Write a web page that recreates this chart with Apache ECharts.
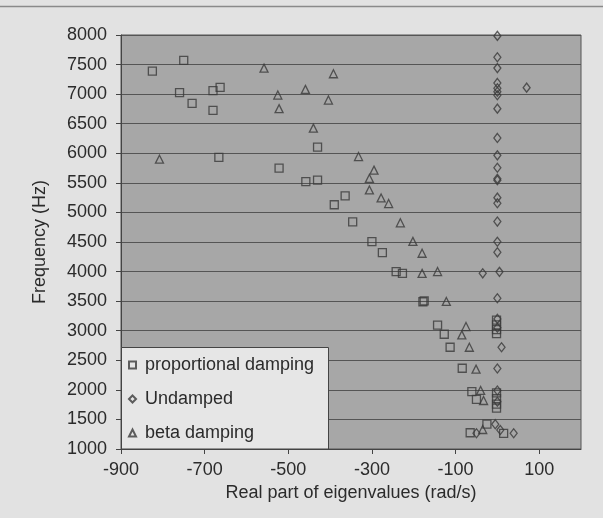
<!DOCTYPE html>
<html>
<head>
<meta charset="utf-8">
<style>
  html, body { margin: 0; padding: 0; background: #e2e2e2; }
  #chart { width: 603px; height: 518px; }
</style>
<script src="https://cdn.jsdelivr.net/npm/echarts@6/dist/echarts.min.js"></script>
</head>
<body>
<div id="chart"></div>
<script>
// Eigenvalues: [real part (rad/s), frequency (Hz)]
const proportionalDamping = [
  [-825, 7390], [-750, 7570], [-760, 7025], [-730, 6845], [-680, 7060],
  [-663, 7115], [-680, 6725], [-666, 5930], [-522, 5750], [-458, 5520],
  [-430, 5545], [-430, 6105], [-390, 5130], [-364, 5280], [-346, 4840],
  [-300, 4505], [-275, 4320], [-242, 4000], [-227, 3970], [-178, 3490],
  [-175, 3505], [-143, 3095], [-127, 2940], [-113, 2720], [-84, 2365],
  [-61, 1970], [-50, 1840], [-65, 1275], [-25, 1420], [15, 1265],
  [-2, 3180], [-2, 3100], [-2, 3020], [-2, 2950],
  [-2, 1950], [-2, 1850], [-2, 1760], [-2, 1690]
];
const undamped = [
  [0, 7985], [0, 7625], [0, 7440], [0, 7190], [0, 7100], [0, 7040], [0, 6980],
  [70, 7110], [0, 6755], [0, 6260], [0, 5965], [0, 5755], [0, 5570], [0, 5545],
  [0, 5250], [0, 5155], [0, 4845], [0, 4505], [0, 4325], [5, 3995], [-35, 3970],
  [0, 3550], [0, 3200], [0, 3050], [10, 2720], [0, 2360], [0, 1990], [0, 1800],
  [-50, 1265], [-5, 1420], [7, 1320], [39, 1265]
];
const betaDamping = [
  [-808, 5900], [-558, 7440], [-525, 6985], [-522, 6755], [-459, 7080],
  [-392, 7345], [-404, 6900], [-440, 6425], [-332, 5945], [-295, 5715],
  [-306, 5575], [-306, 5380], [-278, 5245], [-260, 5150], [-232, 4825],
  [-202, 4510], [-180, 4310], [-180, 3970], [-143, 4000], [-122, 3495],
  [-75, 3070], [-85, 2930], [-67, 2720], [-51, 2350], [-40, 1990],
  [-33, 1820], [-35, 1330]
];
const seriesNames = ['proportional damping', 'Undamped', 'beta damping'];
const xTitle = 'Real part of eigenvalues (rad/s)';
const yTitle = 'Frequency (Hz)';

const ink = '#2b2b2b';
const markStroke = '#3a3a3a';
const font = 'Liberation Sans, Arial, sans-serif';
const fs = 18;

function markerStyle() {
  return { color: 'rgba(0,0,0,0)', borderColor: markStroke, borderWidth: 1.3 };
}

const chart = echarts.init(document.getElementById('chart'), null, { renderer: 'canvas' });
chart.setOption({
  backgroundColor: '#e2e2e2',
  animation: false,
  textStyle: { fontFamily: font },
  grid: {
    left: 121, right: 22, top: 35, bottom: 69,
    show: true, backgroundColor: '#a7a7a7', borderColor: '#555', borderWidth: 1
  },
  xAxis: {
    type: 'value', min: -900, max: 200, interval: 200,
    name: xTitle, nameLocation: 'middle', nameGap: 35,
    nameTextStyle: { color: ink, fontSize: fs, fontFamily: font },
    axisLine: { onZero: false, lineStyle: { color: '#444', width: 1 } },
    axisTick: { show: true, length: 5, lineStyle: { color: '#444' } },
    axisLabel: {
      color: ink, fontSize: fs, margin: 12, fontFamily: font, showMaxLabel: false,
      formatter: v => String(v)
    },
    splitLine: { show: false }
  },
  yAxis: {
    type: 'value', min: 1000, max: 8000, interval: 500,
    name: yTitle, nameLocation: 'middle', nameGap: 72, nameRotate: 90,
    nameTextStyle: { color: ink, fontSize: fs, fontFamily: font },
    axisLine: { onZero: false, lineStyle: { color: '#444', width: 1 } },
    axisTick: { show: true, length: 5, lineStyle: { color: '#444' } },
    axisLabel: { color: ink, fontSize: fs, margin: 14, fontFamily: font, formatter: v => String(v) },
    splitLine: { show: true, lineStyle: { color: '#555', width: 1 } }
  },
  legend: {
    orient: 'vertical', left: 123, top: 351, z: 20,
    itemWidth: 7, itemHeight: 7, itemGap: 16,
    data: seriesNames,
    textStyle: { color: ink, fontSize: fs, fontFamily: font, lineHeight: 18, padding: [0, 0, 0, 4] }
  },
  graphic: [
    {
      type: 'rect', z: 10,
      shape: { x: 121.5, y: 347.5, width: 207, height: 101.5 },
      style: { fill: '#e6e6e6', stroke: '#444', lineWidth: 1 }
    },
    {
      type: 'line', z: 10,
      shape: { x1: 0, y1: 6.5, x2: 603, y2: 6.5 },
      style: { stroke: '#8a8a8a', lineWidth: 1.5 }
    }
  ],
  series: [
    {
      name: seriesNames[0], type: 'scatter', symbol: 'rect', symbolSize: 8,
      itemStyle: markerStyle(), data: proportionalDamping
    },
    {
      name: seriesNames[1], type: 'scatter', symbol: 'diamond', symbolSize: [7, 9],
      itemStyle: markerStyle(), data: undamped
    },
    {
      name: seriesNames[2], type: 'scatter', symbol: 'triangle', symbolSize: [8, 8],
      itemStyle: markerStyle(), data: betaDamping
    }
  ]
});
</script>
</body>
</html>
